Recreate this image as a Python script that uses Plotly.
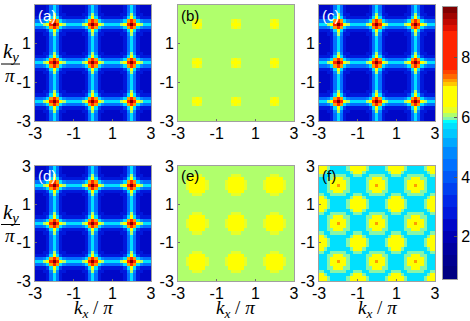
import plotly.graph_objects as go
import numpy as np

# One quadrant of the repeating 2-unit tile of each map.
# Rows/columns run from a peak (index 0) to the point midway between peaks (index 6).
map_a = [
    [9.6, 8.0, 6.8, 6.1, 5.7, 5.6, 5.6],
    [8.0, 7.25, 5.7, 4.7, 4.5, 4.5, 4.5],
    [6.8, 5.7, 3.7, 2.9, 2.9, 2.9, 2.9],
    [6.1, 4.7, 2.9, 2.6, 2.5, 2.5, 2.5],
    [5.7, 4.5, 2.9, 2.5, 2.4, 2.4, 2.4],
    [5.6, 4.5, 2.9, 2.5, 2.4, 2.3, 2.3],
    [5.6, 4.5, 2.9, 2.5, 2.4, 2.3, 2.2],
]
map_b = [
    [6.5, 6.5, 6.05, 6.05, 6.05, 6.05, 6.05],
    [6.5, 6.25, 6.05, 6.05, 6.05, 6.05, 6.05],
    [6.05, 6.05, 6.05, 6.05, 6.05, 6.05, 6.05],
    [6.05, 6.05, 6.05, 6.05, 6.05, 6.05, 6.05],
    [6.05, 6.05, 6.05, 6.05, 6.05, 6.05, 6.05],
    [6.05, 6.05, 6.05, 6.05, 6.05, 6.05, 6.05],
    [6.05, 6.05, 6.05, 6.05, 6.05, 6.05, 6.05],
]
map_e = [
    [6.5, 6.5, 6.5, 6.25, 6.05, 6.05, 6.05],
    [6.5, 6.5, 6.5, 6.25, 6.05, 6.05, 6.05],
    [6.5, 6.5, 6.5, 6.05, 6.05, 6.05, 6.05],
    [6.25, 6.25, 6.05, 6.05, 6.05, 6.05, 6.05],
    [6.05, 6.05, 6.05, 6.05, 6.05, 6.05, 6.05],
    [6.05, 6.05, 6.05, 6.05, 6.05, 6.05, 6.05],
    [6.05, 6.05, 6.05, 6.05, 6.05, 6.05, 6.05],
]
map_f = [
    [7.25, 6.5, 6.5, 5.95, 5.7, 5.7, 5.7],
    [6.5, 6.5, 6.5, 5.95, 5.7, 5.7, 5.7],
    [6.5, 6.5, 5.95, 5.95, 5.7, 5.7, 5.7],
    [5.95, 5.95, 5.95, 5.7, 5.7, 5.95, 5.95],
    [5.7, 5.7, 5.7, 5.7, 5.95, 6.5, 6.5],
    [5.7, 5.7, 5.7, 5.95, 6.5, 6.5, 6.5],
    [5.7, 5.7, 5.7, 5.95, 6.5, 6.5, 6.5],
]
tick_vals = [-3, -1, 1, 3]
tick_text = ["-3", "-1", "1", "3"]
bar_ticks = [2, 4, 6, 8]
panel_names = ["(a)", "(b)", "(c)", "(d)", "(e)", "(f)"]
panel_maps = [map_a, map_b, map_a, map_a, map_e, map_f]
name_colors = ["white", "black", "white", "white", "black", "black"]

# Stepped colour bands: (upper value of band, colour)
Z_MIN, Z_MAX = 0.58, 9.7
bands = [
    (1.0, "#000082"), (1.4, "#000090"), (1.8, "#0000a0"), (2.2, "#0000b4"),
    (2.6, "#0008c8"), (3.0, "#0018dc"), (3.4, "#0028e8"), (3.8, "#0040f0"),
    (4.2, "#0058f8"), (4.6, "#0070ff"), (5.0, "#0088ff"), (5.3, "#00a8ff"),
    (5.6, "#00c8ff"), (5.8, "#00e0ff"), (5.9, "#00ffff"), (6.0, "#86f5aa"),
    (6.15, "#b0ff6c"), (6.35, "#e8ff28"), (7.05, "#ffff00"), (7.2, "#ffc800"),
    (7.3, "#ff9c00"), (7.45, "#ff6a00"), (7.6, "#ff4400"), (8.9, "#ff2400"),
    (9.1, "#e01000"), (9.3, "#c00800"), (9.5, "#a00400"), (9.7, "#800000"),
]
band_tops = [b[0] for b in bands]
band_edges = [Z_MIN] + band_tops
scale = []
for low, high, (_, col) in zip(band_edges[:-1], band_edges[1:], bands):
    scale.append([(low - Z_MIN) / (Z_MAX - Z_MIN), col])
    scale.append([(high - Z_MIN) / (Z_MAX - Z_MIN), col])
scale[-1][0] = 1.0

W, H = 470, 321
col_px = [(35, 151), (178, 294), (319, 435)]
row_px = [(5, 121), (166, 281)]
bar_px = (443, 457, 7, 279)
GRAY = "#a0a0a0"
LABEL_FONT = "Liberation Sans"
MATH_FONT = "Liberation Serif"

k = np.arange(37) / 6 - 3

fig = go.Figure()
layout = {}
for n, (data, name, ncol) in enumerate(zip(panel_maps, panel_names, name_colors)):
    r, c = divmod(n, 3)
    arr = np.array(data)
    # first grid cell sits at k=-3, midway between peaks: start half a tile in
    shift = (np.arange(37) + 6) % 12
    sel = np.array([min(s, 12 - s) for s in shift])
    z = arr[np.ix_(sel, sel)]
    ax = "" if n == 0 else str(n + 1)
    fig.add_trace(go.Heatmap(x=k, y=k, z=z, xaxis="x" + ax, yaxis="y" + ax,
                             coloraxis="coloraxis", hoverinfo="skip"))
    x0, x1 = col_px[c]
    y0, y1 = row_px[r]
    common = dict(range=[-3, 3], tickvals=tick_vals, ticktext=tick_text, automargin=False,
                  showgrid=False, zeroline=False, showline=True, mirror=True,
                  linecolor=GRAY, linewidth=1, ticks="inside", ticklen=2,
                  tickcolor="#707070", tickfont=dict(family=LABEL_FONT, size=16, color="black"))
    layout["xaxis" + ax] = dict(common, domain=[x0 / W, x1 / W], anchor="y" + ax, tickangle=0,
                                ticklabelstandoff=-2)
    layout["yaxis" + ax] = dict(common, domain=[1 - y1 / H, 1 - y0 / H], anchor="x" + ax)
    fig.add_annotation(x=(x0 + 1) / W, y=1 - (y0 + 10) / H, xref="paper", yref="paper",
                       text=name, showarrow=False, xanchor="left", yanchor="middle",
                       font=dict(family=LABEL_FONT, size=15, color=ncol))

# Colour bar, drawn as its own small heatmap
mids = [(a + b) / 2 for a, b in zip(band_edges[:-1], band_edges[1:])]
fig.add_trace(go.Heatmap(x=[0, 1], y=band_edges, z=[[m] for m in mids], xaxis="x7", yaxis="y7",
                         coloraxis="coloraxis", hoverinfo="skip"))
layout["xaxis7"] = dict(domain=[bar_px[0] / W, bar_px[1] / W], anchor="y7", range=[0, 1],
                        automargin=False, showticklabels=False, ticks="", showgrid=False,
                        zeroline=False, showline=True, mirror=True, linecolor=GRAY, linewidth=1)
layout["yaxis7"] = dict(domain=[1 - bar_px[3] / H, 1 - bar_px[2] / H], anchor="x7", side="right",
                        range=[Z_MIN, Z_MAX], tickvals=bar_ticks, ticks="inside", ticklen=3,
                        automargin=False, tickcolor="#555555", showgrid=False, zeroline=False,
                        showline=True, mirror=True, linecolor=GRAY, linewidth=1,
                        tickfont=dict(family=LABEL_FONT, size=16, color="black"))

for x0, x1 in col_px:
    fig.add_annotation(x=(x0 + x1) / 2 / W, y=1 - 308.5 / H, xref="paper", yref="paper",
                       xanchor="center", yanchor="middle",
                       text="<i>k<sub>x</sub></i> / <i>π</i>", showarrow=False,
                       font=dict(family=MATH_FONT, size=19, color="black"))
for y0, y1 in row_px:
    mid = (y0 + y1) / 2
    fig.add_annotation(x=10.5 / W, y=1 - (mid - 11) / H, xref="paper", yref="paper",
                       xanchor="center", yanchor="middle",
                       text="<i>k<sub>y</sub></i>", showarrow=False,
                       font=dict(family=MATH_FONT, size=21, color="black"))
    fig.add_annotation(x=10 / W, y=1 - (mid + 12) / H, xref="paper", yref="paper",
                       xanchor="center", yanchor="middle",
                       text="<i>π</i>", showarrow=False,
                       font=dict(family=MATH_FONT, size=19, color="black"))
    fig.add_shape(type="line", xref="paper", yref="paper", x0=1 / W, x1=20 / W,
                  y0=1 - (mid + 1) / H, y1=1 - (mid + 1) / H, line=dict(color="black", width=1))

fig.update_layout(
    width=W, height=H, margin=dict(l=0, r=0, t=0, b=0),
    paper_bgcolor="white", plot_bgcolor="white", showlegend=False,
    coloraxis=dict(cmin=Z_MIN, cmax=Z_MAX, colorscale=scale, showscale=False),
    **layout,
)
fig.write_html("out.html", config={"displayModeBar": False},
               post_script="document.body.style.margin='0';document.body.style.overflow='hidden';")
